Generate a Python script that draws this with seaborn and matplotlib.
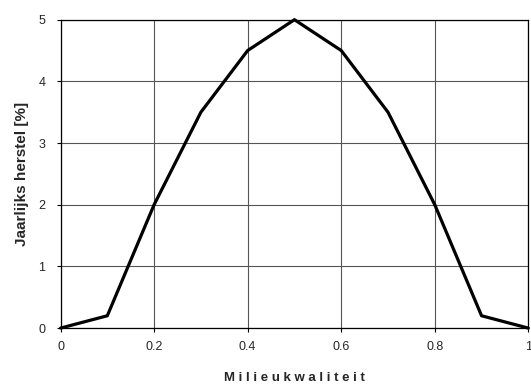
import pandas as pd
import matplotlib
matplotlib.use("Agg")
import matplotlib.pyplot as plt
import seaborn as sns

# waarden
milieukwaliteit = [0.0, 0.1, 0.2, 0.3, 0.4, 0.5, 0.6, 0.7, 0.8, 0.9, 1.0]
herstel = [0.0, 0.2, 2.0, 3.5, 4.5, 5.0, 4.5, 3.5, 2.0, 0.2, 0.0]
x_ticks = [0, 0.2, 0.4, 0.6, 0.8, 1]
x_labels = ["0", "0.2", "0.4", "0.6", "0.8", "1"]
y_ticks = [0, 1, 2, 3, 4, 5]

df = pd.DataFrame({"Milieukwaliteit": milieukwaliteit, "Herstel": herstel})

sns.set_style("ticks")
plt.rcParams['font.family'] = ['Liberation Sans', 'DejaVu Sans']

fig = plt.figure(figsize=(5.31, 3.86), dpi=100)
ax = fig.add_axes([0.114, 0.150, 0.881, 0.799])

sns.lineplot(data=df, x="Milieukwaliteit", y="Herstel", ax=ax, color="black",
             linewidth=2.3, zorder=3, clip_on=False)

ax.set_xlim(0, 1)
ax.set_ylim(0, 5)
ax.set_xticks(x_ticks)
ax.set_xticklabels(x_labels)
ax.set_yticks(y_ticks)
ax.grid(True, color="#555555", linewidth=0.8)
for s in ax.spines.values():
    s.set_color("black")
    s.set_linewidth(0.9)
ax.tick_params(axis="x", labelsize=9, length=3, width=0.8, color="black", pad=6)
ax.tick_params(axis="y", labelsize=9, length=3, width=0.8, color="black", pad=8)

ax.set_xlabel("M i l i e u k w a l i t e i t", fontsize=9.5, fontweight="bold", labelpad=14)
ax.set_ylabel("Jaarlijks herstel [%]", fontsize=11, fontweight="bold", labelpad=7)

fig.savefig("out.png", dpi=100)
